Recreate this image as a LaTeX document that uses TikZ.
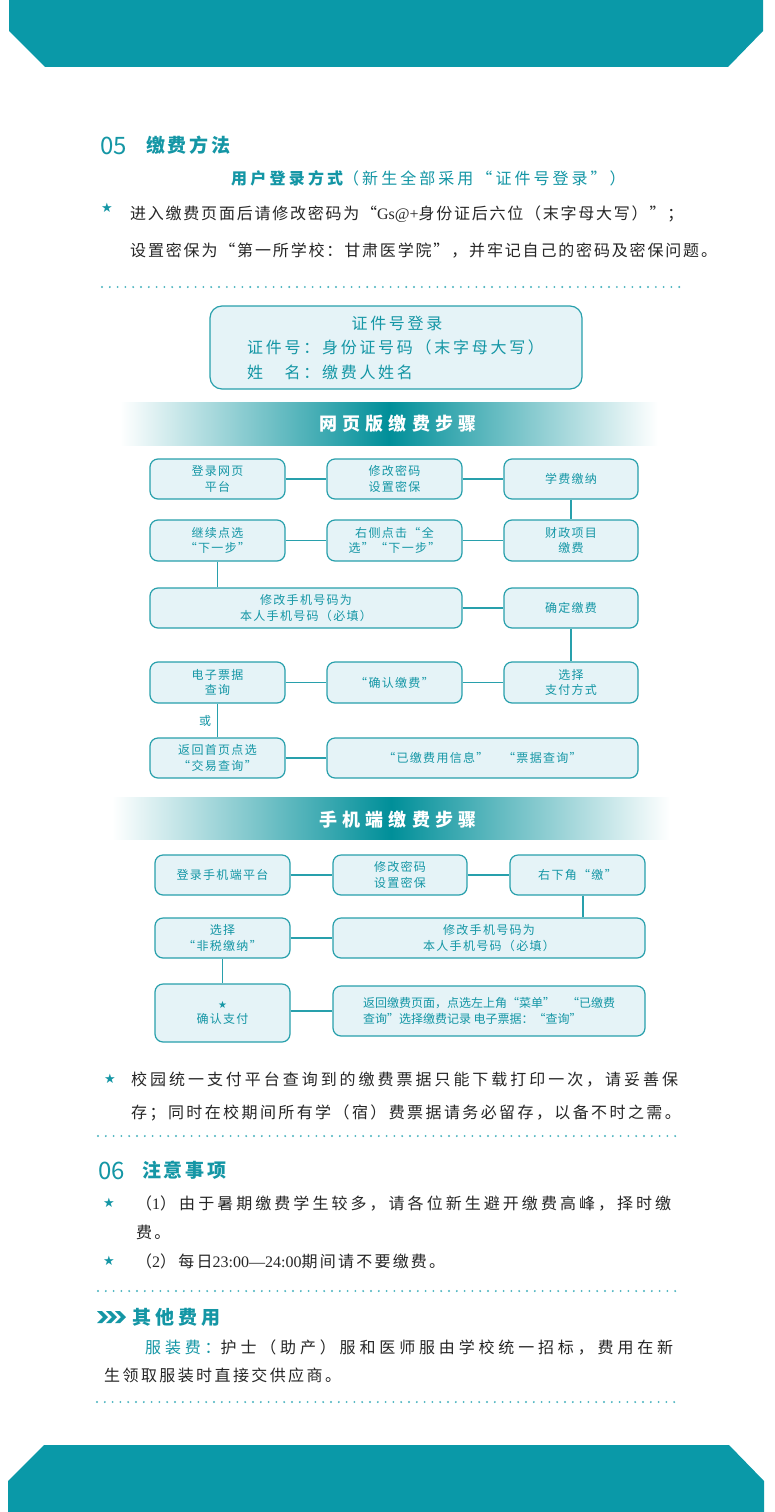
\documentclass[tikz,border=0pt]{standalone}
\usepackage{fontspec}
\setmainfont{Noto Sans CJK SC}
\newfontfamily\lat{Liberation Serif}
\newfontfamily\sym{DejaVu Sans}
\definecolor{band}{RGB}{10,153,168}
\definecolor{tealtxt}{RGB}{20,150,165}
\definecolor{boxfill}{RGB}{229,243,247}
\definecolor{boxline}{RGB}{40,160,172}
\definecolor{bodytxt}{RGB}{38,38,38}
\definecolor{bannermid}{RGB}{0,143,153}
\definecolor{dotc}{RGB}{70,178,190}
\newcommand\lsp[2]{{\addfontfeature{LetterSpace=#1}#2}}
\newcommand\fb[6]{\node[fbox, minimum width={#4pt-#2pt}, minimum height={#5pt-#3pt}] (#1) at ({(#2+#4)/2},{(#3+#5)/2}) {#6};}
\tikzset{
  fbox/.style={draw=boxline, fill=boxfill, line width=1.2pt, rounded corners=8pt, align=center, text=tealtxt, inner sep=0pt,
    font={\fontsize{12}{15.6}\selectfont\addfontfeature{LetterSpace=11}}},
  conn/.style={draw=boxline, line width=1.2pt},
  body/.style={anchor=base west, inner sep=0pt, text=bodytxt, font=\fontsize{16}{16}\selectfont},
  bullet/.style={inner sep=0pt, text=tealtxt, font=\sym\fontsize{13}{13}\selectfont},
  dotline/.style={draw=dotc, line width=2.1pt, line cap=round, dash pattern=on 0pt off 7.8pt},
  bigtitle/.style={anchor=west, inner sep=0pt, text=tealtxt, font=\fontsize{19}{19}\selectfont\bfseries\addfontfeature{LetterSpace=14}},
  bignum/.style={anchor=base west, inner sep=0pt, text=tealtxt, font=\fontsize{24}{24}\selectfont},
  bannertxt/.style={inner sep=0pt, text=white, font=\fontsize{18}{18}\selectfont\bfseries\addfontfeature{LetterSpace=28}},
  idtxt/.style={inner sep=0pt, text=tealtxt, font=\fontsize{16}{16}\selectfont\addfontfeature{LetterSpace=17}}
}
\begin{document}
\begin{tikzpicture}[x=1pt,y=-1pt]
\useasboundingbox (0,0) rectangle (774,1512);
\fill[white] (0,0) rectangle (774,1512);
% bands
\fill[band] (9,0) -- (763,0) -- (763,31) -- (728,67) -- (45,67) -- (9,31) -- cycle;
\fill[band] (8,1512) -- (8,1481) -- (44,1445) -- (729,1445) -- (764,1481) -- (764,1512) -- cycle;

% 05 heading
\node[bignum] (n05) at (100,154) {05};
\node[bigtitle] (t05) at (146,145) {缴费方法};
\node[anchor=west, inner sep=0pt, text=tealtxt] (sub) at (231,178)
  {\fontsize{16}{16}\selectfont{\bfseries\addfontfeature{LetterSpace=20}用户登录方式}{\addfontfeature{LetterSpace=19}（新生全部采用“证件号登录”）}};
\node[bullet] (s1) at (107,208) {★};
\node[body] (p1) at (130,219) {\lsp{11}{进入缴费页面后请修改密码为“}{\lat Gs@+}\lsp{11}{身份证后六位（末字母大写）”；}};
\node[body] (p2) at (130,256) {\lsp{11.5}{设置密保为“第一所学校：甘肃医学院”，并牢记自己的密码及密保问题。}};
\draw[dotline] (102,287) -- (682,287);

% ID box
\node[draw=boxline, fill=boxfill, line width=1.2pt, rounded corners=12pt, minimum width=372pt, minimum height=83pt, inner sep=0pt] (idbox) at (396,347.5) {};
\node[idtxt] (id1) at (397,323) {证件号登录};
\node[idtxt, anchor=west] (id2) at (247,347) {证件号：身份证号码（末字母大写）};
\node[idtxt, anchor=west] (id3) at (247,372) {姓　名：缴费人姓名};

% banner 1
\shade[left color=white, right color=white, middle color=bannermid] (120,402) rectangle (658,445);
\node[bannertxt] (b1) at (398,424) {网页版缴费步骤};

% web flow
\fb{wA1}{150}{459}{285}{499}{登录网页\\平台}
\fb{wB1}{327}{459}{462}{499}{修改密码\\设置密保}
\fb{wC1}{504}{459}{638}{499}{学费缴纳}
\fb{wA2}{150}{520}{285}{561}{继续点选\\“下一步”}
\fb{wB2}{327}{520}{462}{561}{右侧点击“全\\选”“下一步”}
\fb{wC2}{504}{520}{638}{561}{财政项目\\缴费}
\fb{wW3}{150}{588}{462}{628}{修改手机号码为\\本人手机号码（必填）}
\fb{wC3}{504}{588}{638}{628}{确定缴费}
\fb{wA4}{150}{662}{285}{703}{电子票据\\查询}
\fb{wB4}{327}{662}{462}{703}{“确认缴费”}
\fb{wC4}{504}{662}{638}{703}{选择\\支付方式}
\fb{wA5}{150}{738}{285}{778}{返回首页点选\\“交易查询”}
\fb{wW5}{327}{738}{638}{778}{“已缴费用信息”　“票据查询”}
\draw[conn] (wA1) -- (wB1);
\draw[conn] (wB1) -- (wC1);
\draw[conn] (wC1) -- (wC2);
\draw[conn] (wA2) -- (wB2);
\draw[conn] (wB2) -- (wC2);
\draw[conn] (wA2.south) -- (wA2.south |- wW3.north);
\draw[conn] (wW3) -- (wC3);
\draw[conn] (wC3) -- (wC4);
\draw[conn] (wA4) -- (wB4);
\draw[conn] (wB4) -- (wC4);
\draw[conn] (wA4) -- (wA5);
\draw[conn] (wA5) -- (wW5);
\node[inner sep=0pt, text=tealtxt, font=\fontsize{12}{12}\selectfont] (or) at (205,721) {或};

% banner 2
\shade[left color=white, right color=white, middle color=bannermid] (112,797) rectangle (670,839);
\node[bannertxt] (b2) at (398,820) {手机端缴费步骤};

% mobile flow
\fb{mA1}{155}{855}{290}{895}{登录手机端平台}
\fb{mB1}{333}{855}{467}{895}{修改密码\\设置密保}
\fb{mC1}{510}{855}{645}{895}{右下角“缴”}
\fb{mA2}{155}{918}{290}{958}{选择\\“非税缴纳”}
\fb{mW2}{333}{918}{645}{958}{修改手机号码为\\本人手机号码（必填）}
\fb{mA3}{155}{984}{290}{1042}{{\sym\fontsize{10}{17}\selectfont ★}\\确认支付}
\node[fbox, minimum width=312pt, minimum height=50pt, align=left, font={\fontsize{12}{15.5}\selectfont}] (mW3) at (489,1011)
  {返回缴费页面，点选左上角“菜单”　“已缴费\\查询”选择缴费记录 电子票据：“查询”};
\draw[conn] (mA1) -- (mB1);
\draw[conn] (mB1) -- (mC1);
\draw[conn] ([xshift=5.5pt]mC1.south) -- ([xshift=5.5pt]mC1.south |- mW2.north);
\draw[conn] (mA2) -- (mW2);
\draw[conn] (mA2) -- (mA3);
\draw[conn] (mA3.east |- mW3.west) -- (mW3.west);

% note paragraph
\node[bullet] (s2) at (110,1079) {★};
\node[body] (q1) at (131,1085) {\lsp{18.5}{校园统一支付平台查询到的缴费票据只能下载打印一次，请妥善保}};
\node[body] (q2) at (131,1118) {\lsp{15}{存；同时在校期间所有学（宿）费票据请务必留存，以备不时之需。}};
\draw[dotline] (98,1136) -- (678,1136);

% 06 heading
\node[bignum] (n06) at (98,1179) {06};
\node[bigtitle] (t06) at (142,1170) {注意事项};
\node[bullet] (s3) at (109,1203) {★};
\node[body] (r1) at (136,1209) {\lsp{19}{（}{\lat 1}\lsp{19}{）由于暑期缴费学生较多，请各位新生避开缴费高峰，择时缴}};
\node[body] (r2) at (136,1238) {\lsp{14}{费。}};
\node[bullet] (s4) at (109,1261) {★};
\node[body] (r3) at (136,1267) {\lsp{14}{（}{\lat 2}\lsp{14}{）每日}{\lat 23:00—24:00}\lsp{14}{期间请不要缴费。}};
\draw[dotline] (98,1291) -- (678,1291);

% other fees
\foreach \i in {0,1,2} {
  \fill[tealtxt] ({97+9*\i},1311) -- ({102+9*\i},1311) -- ({108+9*\i},1317) -- ({102+9*\i},1323) -- ({97+9*\i},1323) -- ({103+9*\i},1317) -- cycle;
}
\node[bigtitle, font=\fontsize{19}{19}\selectfont\bfseries\addfontfeature{LetterSpace=22}] (t07) at (132,1317) {其他费用};
\node[body] (u1) at (145,1353) {\lsp{24}{\textcolor{tealtxt}{服装费：}护士（助产）服和医师服由学校统一招标，费用在新}};
\node[body] (u2) at (104,1381) {\lsp{15}{生领取服装时直接交供应商。}};
\draw[dotline] (97,1402) -- (678,1402);
\end{tikzpicture}
\end{document}
